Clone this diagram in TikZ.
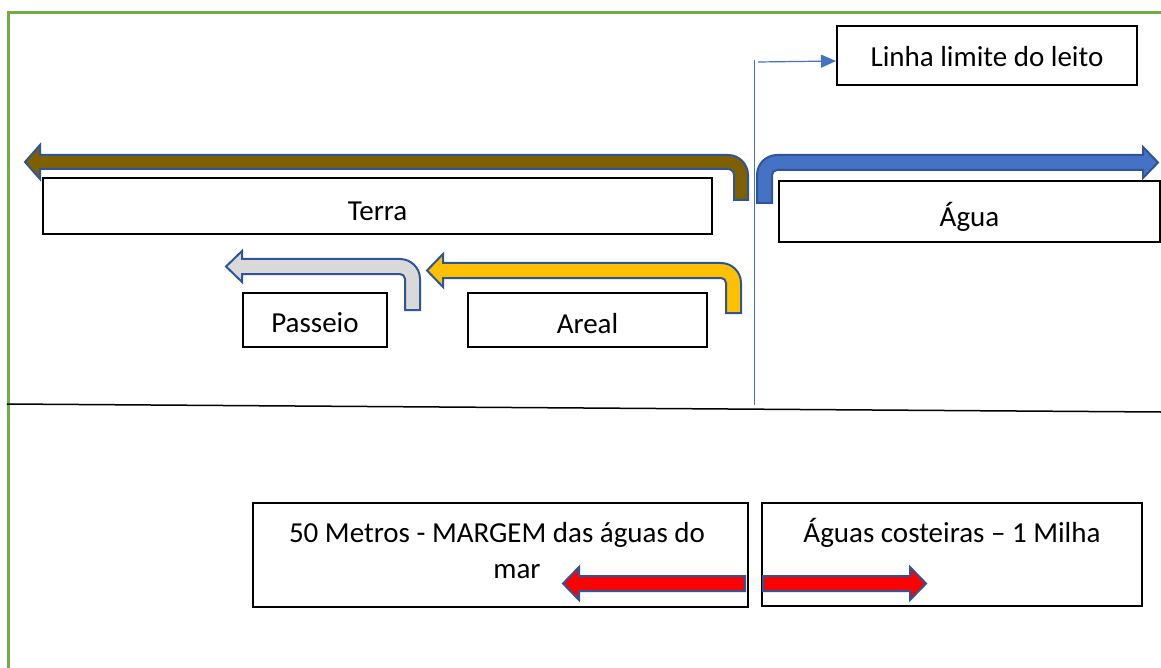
\documentclass[tikz,border=0pt]{standalone}
\usepackage{fontspec}
\setmainfont{Carlito}
\usetikzlibrary{arrows.meta}
\definecolor{brdgreen}{HTML}{70AD47}
\definecolor{outl}{HTML}{2F5597}
\definecolor{accblue}{HTML}{4472C4}
\definecolor{brownf}{HTML}{7F6000}
\definecolor{grayf}{HTML}{D9D9D9}
\definecolor{yellowf}{HTML}{FFC000}
\tikzset{
  box/.style={draw=black, line width=1.5pt, fill=white, inner sep=0pt},
  txt/.style={inner sep=0pt, text depth=0pt, font=\fontsize{29}{35}\selectfont},
  bent/.style={draw=outl, line width=2pt, line join=miter},
}
\begin{document}
\begin{tikzpicture}[x=1pt,y=-1pt]
\useasboundingbox (0,0) rectangle (1161,668);
% green frame
\draw[brdgreen, line width=3pt] (8.7,668) -- (8.7,13) -- (1161,13);
% separator line
\draw[black, line width=1.5pt] (7,404) -- (1161,412);
% thin vertical limit line
\coordinate (vtop) at (754,60);
\coordinate (vbot) at (754,405);
\draw[accblue, line width=1pt] (vtop) -- (vbot);
% boxes
\node[box, minimum width=300, minimum height=59] (linha) at (987,55.5) {};
\node[box, minimum width=669, minimum height=56] (terra) at (377.5,206) {};
\node[box, minimum width=381, minimum height=61] (agua) at (969.5,211.5) {};
\node[box, minimum width=144, minimum height=54] (passeio) at (315,320) {};
\node[box, minimum width=239, minimum height=54] (areal) at (587.5,320) {};
\node[box, minimum width=495, minimum height=104] (margem) at (500.5,555) {};
\node[box, minimum width=380, minimum height=103] (costa) at (952,554.5) {};
% texts
\node[txt, yshift=-1pt] (linhaT) at (linha) {Linha limite do leito};
\node[txt, yshift=-5pt] (terraT) at (terra) {Terra};
\node[txt, yshift=-3pt] (aguaT) at (agua) {Água};
\node[txt, yshift=-3pt] (passeioT) at (passeio) {Passeio};
\node[txt, yshift=-3pt] (arealT) at (areal) {Areal};
\node[txt, anchor=base] (margemA) at (497,542) {50 Metros - MARGEM das águas do};
\node[txt, anchor=base] (margemB) at (517,578) {mar};
\node[txt, anchor=base] (costaA) at (952,542) {Águas costeiras – 1 Milha};
% pointer arrow to Linha limite
\coordinate (lstart) at (758,62);
\coordinate (lend) at (836,61);
\draw[accblue, line width=1.2pt, -{Triangle[length=15pt,width=13pt]}] (lstart) -- (lend);
% brown bent arrow (Terra)
\path[bent, fill=brownf] (748,200) -- (748,175) arc[start angle=0, end angle=-90, radius=20]
  -- (40,155) -- (40,145) -- (25,162) -- (40,179) -- (40,169) -- (728,169)
  arc[start angle=-90, end angle=0, radius=6] -- (734,200) -- cycle;
% blue bent arrow (Agua)
\path[bent, fill=accblue] (757,203) -- (757,175) arc[start angle=180, end angle=270, radius=20]
  -- (1143,155) -- (1143,147) -- (1158,162.5) -- (1143,178) -- (1143,170) -- (777,170)
  arc[start angle=270, end angle=180, radius=5] -- (772,203) -- cycle;
% gray bent arrow (Passeio)
\path[bent, fill=grayf] (420,310) -- (420,279) arc[start angle=0, end angle=-90, radius=20]
  -- (242,259) -- (242,251) -- (226,266.5) -- (242,282) -- (242,274) -- (400,274)
  arc[start angle=-90, end angle=0, radius=5] -- (405,310) -- cycle;
% yellow bent arrow (Areal)
\path[bent, fill=yellowf] (741,313) -- (741,283) arc[start angle=0, end angle=-90, radius=20]
  -- (443,263) -- (443,254) -- (427,270.5) -- (443,287) -- (443,278) -- (721,278)
  arc[start angle=-90, end angle=0, radius=5] -- (726,313) -- cycle;
% red arrows
\path[bent, fill=red] (745,576) -- (579,576) -- (579,567) -- (563,583.5) -- (579,600) -- (579,591) -- (745,591) -- cycle;
\path[bent, fill=red] (763,576) -- (910,576) -- (910,567) -- (926,583.5) -- (910,600) -- (910,591) -- (763,591) -- cycle;
\end{tikzpicture}
\end{document}
